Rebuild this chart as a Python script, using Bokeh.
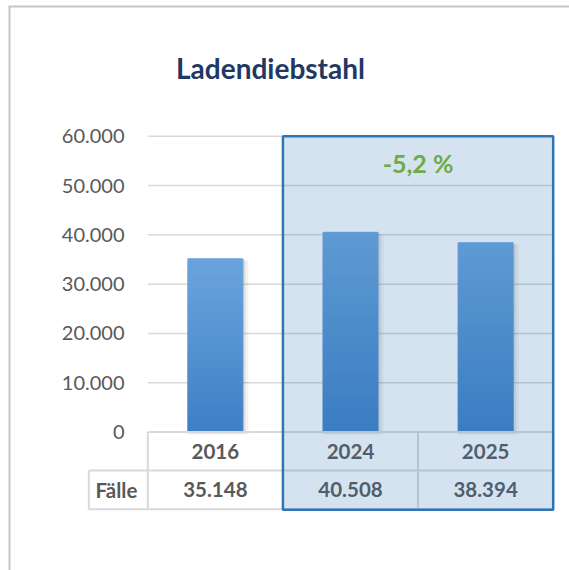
from bokeh.plotting import figure
from bokeh.models import Range1d
from bokeh.core.properties import value
from bokeh.embed import file_html
from bokeh.resources import INLINE

# ---------------- data ----------------
title_text = "Ladendiebstahl"
years = ["2016", "2024", "2025"]
cases = [35148, 40508, 38394]
case_labels = ["35.148", "40.508", "38.394"]
row_label = "Fälle"
y_ticks = [0, 10000, 20000, 30000, 40000, 50000, 60000]
y_tick_labels = ["0", "10.000", "20.000", "30.000", "40.000", "50.000", "60.000"]
change_label = "-5,2 %"
highlight_first, highlight_last = 1, 2   # indexes of 2024 and 2025

# ---------------- layout helpers (page pixels -> data) ----------------
W, H = 569, 570
OFF = 0
X0_PAGE = 147.3
XPX = (552.7 - 147.3) / 3.0
Y0_PAGE = 431.6
YPX = (431.6 - 135.7) / 60000.0


def dx(px):
    return (px - X0_PAGE) / XPX


def dy(py):
    return (Y0_PAGE - py) / YPX


FONT = value("Lato")
GRAY_TXT = "#595959"

p = figure(width=W, height=H, output_backend="svg", toolbar_location=None,
           x_range=Range1d(dx(OFF), dx(OFF + W)), y_range=Range1d(dy(OFF + H), dy(OFF)),
           x_axis_location=None, y_axis_location=None, min_border=0,
           tools="")
p.outline_line_color = None
p.background_fill_color = "white"
p.border_fill_color = "white"
p.xgrid.visible = False
p.ygrid.visible = False

# frame border (left and top)
p.segment(x0=[dx(9), dx(8)], y0=[dy(6), dy(6)], x1=[dx(9), dx(OFF + W)], y1=[dy(OFF + H), dy(6)],
          line_color="#c6c6c6", line_width=2)

# title
p.text(x=[dx(270)], y=[dy(67.5)], text=[title_text], text_font=FONT, text_font_style="bold",
       text_font_size="28px", text_color="#1f3864", text_align="center", text_baseline="middle")

# gridlines
n = len(years)
p.segment(x0=[0] * len(y_ticks), x1=[n] * len(y_ticks), y0=y_ticks, y1=y_ticks,
          line_color="#d9d9d9", line_width=1.5)

# y tick labels
p.text(x=[dx(124)] * len(y_ticks), y=y_ticks, text=y_tick_labels,
       text_font=FONT, text_font_size="20px", text_color=GRAY_TXT,
       text_align="right", text_baseline="middle")

# bars with shadow and vertical gradient
xs = [i + 0.5 for i in range(n)]
bw = 55 / XPX
p.vbar(x=[x + 2.5 / XPX for x in xs], width=bw + 6 / XPX, top=[v - 1.5 / YPX for v in cases],
       bottom=-2.5 / YPX, fill_color="black", fill_alpha=0.05, line_color=None)
p.vbar(x=[x + 1.5 / XPX for x in xs], width=bw + 2 / XPX, top=[v - 1 / YPX for v in cases],
       bottom=-1.5 / YPX, fill_color="black", fill_alpha=0.09, line_color=None)

c_bot = (62, 128, 197)
c_top = (107, 164, 220)
N = 60
gx, gb, gt, gc = [], [], [], []
for x, v in zip(xs, cases):
    for k in range(N):
        f = k / (N - 1)
        r = [round(c_bot[j] + (c_top[j] - c_bot[j]) * f) for j in range(3)]
        gx.append(x)
        gb.append(v * k / N)
        gt.append(v * (k + 1) / N)
        gc.append("#%02x%02x%02x" % tuple(r))
p.vbar(x=gx, width=bw, bottom=gb, top=gt, fill_color=gc, line_color=gc, line_width=1)

# data table
TL = "#d9d9d9"
r1_top, r_mid, r_bot = Y0_PAGE, 470.0, 508.8
lab_left = 88.3
p.segment(x0=[0, dx(lab_left), dx(lab_left)], x1=[n, n, n],
          y0=[dy(r1_top), dy(r_mid), dy(r_bot)], y1=[dy(r1_top), dy(r_mid), dy(r_bot)],
          line_color=TL, line_width=2)
vx = [dx(lab_left)] + list(range(n + 1))
vy0 = [dy(r_mid)] + [dy(r1_top)] * (n + 1)
p.segment(x0=vx, x1=vx, y0=vy0, y1=[dy(r_bot)] * len(vx), line_color=TL, line_width=2)

p.text(x=xs, y=[dy(450.8)] * n, text=years, text_font=FONT, text_font_style="bold",
       text_font_size="20.5px", text_color=GRAY_TXT, text_align="center", text_baseline="middle")
p.text(x=xs, y=[dy(489.2)] * n, text=case_labels, text_font=FONT, text_font_style="bold",
       text_font_size="20.5px", text_color=GRAY_TXT, text_align="center", text_baseline="middle")
p.text(x=[dx(116)], y=[dy(489.2)], text=[row_label], text_font=FONT, text_font_style="bold",
       text_font_size="20.5px", text_color=GRAY_TXT, text_align="center", text_baseline="middle")

# highlight box (semi-transparent overlay)
p.quad(left=[highlight_first], right=[highlight_last + 1], top=[max(y_ticks)], bottom=[dy(509.3)],
       fill_color="#2e75b6", fill_alpha=0.2, line_color="#2e75b6", line_width=2.5)

# change label
p.text(x=[(highlight_first + highlight_last + 1) / 2], y=[dy(162.5)], text=[change_label],
       text_font=FONT, text_font_style="bold", text_font_size="25px", text_color="#6cab45",
       text_align="center", text_baseline="middle")

open("out.html", "w").write(file_html(p, INLINE))
